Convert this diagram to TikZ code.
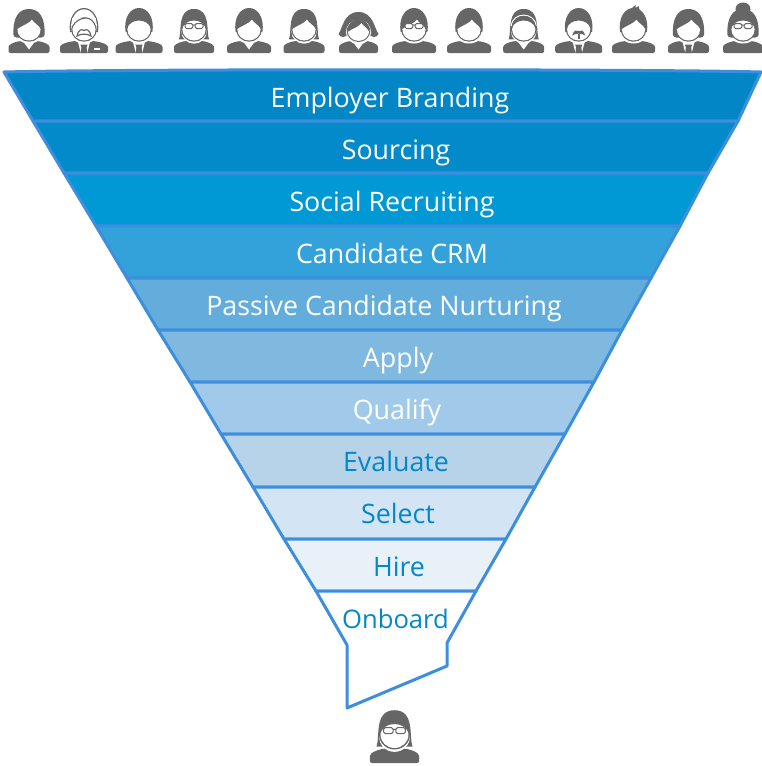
\documentclass[tikz,border=0pt]{standalone}
\usepackage{fontspec}
\setmainfont{Open Sans}
\definecolor{ln}{HTML}{3E8EDE}
\definecolor{ic}{HTML}{666666}
\definecolor{tb}{HTML}{0288C8}
\definecolor{ba}{HTML}{0286C5}
\definecolor{bb}{HTML}{028ACA}
\definecolor{bc}{HTML}{0099D5}
\definecolor{bd}{HTML}{33A2DA}
\definecolor{be}{HTML}{63ADDD}
\definecolor{bf}{HTML}{80B9E0}
\definecolor{bg}{HTML}{A1CAEA}
\definecolor{bh}{HTML}{B7D3EA}
\definecolor{bi}{HTML}{D3E4F4}
\definecolor{bj}{HTML}{E8F1F8}
\tikzset{
  band/.style={draw=ln,line width=3pt,line join=round},
  lab/.style={anchor=base,font=\fontsize{26.8}{30}\selectfont,inner sep=0pt},
  labw/.style={lab,text=white},
  labb/.style={lab,text=tb},
  dk/.style={fill=ic,draw=none},
  gl/.style={draw=ic,line width=1pt,fill=white,rounded corners=1.5pt},
}
% local icon coordinates: origin at the head centre
\newcommand{\icBody}[2]{% left, right half widths
  \fill[dk,rounded corners=2pt] (-#1,22) -- (-#1,18) .. controls (-#1,13.5) and (-#1+5,11.5) .. (-9,10) -- (9,10) .. controls (#2-5,11.5) and (#2,13.5) .. (#2,18) -- (#2,22) -- cycle;}
\newcommand{\icVee}{\fill[white] (-7,9) -- (0,18.5) -- (7,9) -- cycle;}
\newcommand{\icSuit}{\fill[white] (-6.5,9) -- (-3.2,22) -- (3.2,22) -- (6.5,9) -- cycle;
  \fill[dk] (-3.6,13.5) -- (3.6,13.5) -- (2.6,16.5) -- (3.4,22) -- (-3.4,22) -- (-2.6,16.5) -- cycle;}
\newcommand{\icHalo}{\fill[white] (0,-1.5) ellipse (15.5 and 14);}
\newcommand{\icGap}{\fill[white] (0,0.5) ellipse (12.7 and 12.2);}
\newcommand{\icFace}{\fill[dk] (0,-1.5) ellipse (12.8 and 12.2);
  \fill[white] (0,-1.5) ellipse (11.6 and 11);}
\newcommand{\icShort}{\fill[dk] (-13.4,1) .. controls (-15.5,-13) and (-9,-23) .. (0,-23) .. controls (9,-23) and (15.5,-13) .. (13.4,1) -- cycle;}
\newcommand{\icBob}{\fill[dk] (-15.5,4) .. controls (-16.5,-14) and (-10,-22) .. (0,-22) .. controls (10,-22) and (16.5,-14) .. (15.5,4) .. controls (15,7) and (10,7) .. (8,6) -- (-8,6) .. controls (-10,7) and (-15,7) .. (-15.5,4) -- cycle;}
\newcommand{\icLong}{\fill[dk] (-15,8.3) .. controls (-12,0) and (-17,-22) .. (0,-22) .. controls (17,-22) and (12,0) .. (15,8.3) -- cycle;}
\newcommand{\icFlat}{\fill[dk] (-11.8,-3) .. controls (-12,-11) and (-6,-15) .. (0,-15) .. controls (6,-15) and (12,-11) .. (11.8,-3) .. controls (10,-8) and (5,-10.5) .. (0,-10.5) .. controls (-5,-10.5) and (-10,-8) .. (-11.8,-3) -- cycle;}
\newcommand{\icSide}{\fill[dk] (-11.8,-2) .. controls (-12,-11) and (-6,-15) .. (0,-15) .. controls (6,-15) and (12,-11) .. (11.8,-2) .. controls (10,-6) and (5,-8) .. (3,-11.5) .. controls (0,-7.5) and (-7,-5.5) .. (-11.8,-2) -- cycle;}
\newcommand{\icGlasses}{\draw[gl] (-9,-7.5) rectangle (-1.2,-2.5); \draw[gl] (1.2,-7.5) rectangle (9,-2.5);
  \draw[ic,line width=1pt] (-1.2,-6) -- (1.2,-6) (-9,-6.5) -- (-12,-7) (9,-6.5) -- (12,-7);}
\newcommand{\icMoustache}{\fill[dk] (-6.5,4.5) .. controls (-5,-1) and (-2,-1.5) .. (0,0) .. controls (2,-1.5) and (5,-1) .. (6.5,4.5) .. controls (3,2) and (-3,2) .. (-6.5,4.5) -- cycle;
  \fill[dk] (-1.2,3) rectangle (1.2,8);}
\begin{document}
\begin{tikzpicture}[x=1pt,y=-1pt]
\useasboundingbox (0,0) rectangle (761,766);
% edge coordinates
\coordinate (L0) at (4,72);    \coordinate (R0) at (761,72);
\coordinate (L1) at (33,121);  \coordinate (R1) at (738,121);
\coordinate (L2) at (64,173);  \coordinate (R2) at (708,173);
\coordinate (L3) at (96,226);  \coordinate (R3) at (680,226);
\coordinate (L4) at (127,278); \coordinate (R4) at (651,278);
\coordinate (L5) at (158,330); \coordinate (R5) at (622,330);
\coordinate (L6) at (190,382); \coordinate (R6) at (594,382);
\coordinate (L7) at (221,434); \coordinate (R7) at (565,434);
\coordinate (L8) at (253,487); \coordinate (R8) at (535,487);
\coordinate (L9) at (284,539); \coordinate (R9) at (506,539);
\coordinate (L10) at (316,591);\coordinate (R10) at (476,591);
\coordinate (L11) at (347,645);\coordinate (R11) at (447,643);
\coordinate (B1) at (347,708); \coordinate (B2) at (447,666);
% bands
\draw[band,fill=ba] (L0) .. controls (120,69) and (650,69) .. (R0) -- (R1) -- (L1) -- cycle;
\draw[band,fill=bb] (L1) -- (R1) -- (R2) -- (L2) -- cycle;
\draw[band,fill=bc] (L2) -- (R2) -- (R3) -- (L3) -- cycle;
\draw[band,fill=bd] (L3) -- (R3) -- (R4) -- (L4) -- cycle;
\draw[band,fill=be] (L4) -- (R4) -- (R5) -- (L5) -- cycle;
\draw[band,fill=bf] (L5) -- (R5) -- (R6) -- (L6) -- cycle;
\draw[band,fill=bg] (L6) -- (R6) -- (R7) -- (L7) -- cycle;
\draw[band,fill=bh] (L7) -- (R7) -- (R8) -- (L8) -- cycle;
\draw[band,fill=bi] (L8) -- (R8) -- (R9) -- (L9) -- cycle;
\draw[band,fill=bj] (L9) -- (R9) -- (R10) -- (L10) -- cycle;
\draw[band,fill=white] (L10) -- (R10) -- (R11) -- (B2) -- (B1) -- (L11) -- cycle;
% labels
\node[labw] (t1) at (390,107) {Employer Branding};
\node[labw] (t2) at (396,159) {Sourcing};
\node[labw] (t3) at (392,211) {Social Recruiting};
\node[labw] (t4) at (392,263.5) {Candidate CRM};
\node[labw] (t5) at (384,315.5) {Passive Candidate Nurturing};
\node[labw] (t6) at (398,367.5) {Apply};
\node[labw] (t7) at (397,419.5) {Qualify};
\node[labb] (t8) at (396,471.5) {Evaluate};
\node[labb] (t9) at (398,523.5) {Select};
\node[labb] (t10) at (399,576) {Hire};
\node[labb,font=\fontsize{25.6}{30}\selectfont] (t11) at (395.5,628) {Onboard};
% people
\begin{scope}[shift={(29,31)}] \icBody{20.5}{20.5}\icVee\icHalo\icBob\icFace\icSide \end{scope}
\begin{scope}[shift={(84,31)}] \icBody{24}{24}\icSuit\icHalo
  \fill[dk] (-14,1) .. controls (-16,-13) and (-9,-23) .. (0,-23) .. controls (9,-23) and (16,-13) .. (14,1) -- cycle;
  \fill[white] (-12.7,0) .. controls (-14.5,-12) and (-8,-21.7) .. (0,-21.7) .. controls (8,-21.7) and (14.5,-12) .. (12.7,0) -- cycle;
  \icFace
  \fill[white] (-11.6,-5) rectangle (11.6,-13);
  \draw[ic,line width=1.1pt] (-11.8,-4) .. controls (-9,-10) and (-3,-13) .. (2,-13) .. controls (6,-13) and (10,-10) .. (11.8,-4);
  \draw[ic,line width=1.2pt,fill=white] (-7,5) .. controls (-5.5,-2) and (-2,-2) .. (0,-0.5) .. controls (2,-2) and (5.5,-2) .. (7,5) .. controls (3,2.5) and (-3,2.5) .. (-7,5) -- cycle;
  \fill[white] (10,17) rectangle (16,19);
\end{scope}
\begin{scope}[shift={(139,31)}] \icBody{23.5}{23.5}\icSuit\icHalo\icShort\icFace\icFlat \end{scope}
\begin{scope}[shift={(194,31)}] \icBody{20}{20}\icLong\icGap\icFace\icFlat\icGlasses \end{scope}
\begin{scope}[shift={(249,31)}] \icBody{22}{22}\icVee\icHalo\icShort\icFace\icSide \end{scope}
\begin{scope}[shift={(304,31)}] \icBody{20.5}{20.5}\icLong\icGap\icFace\icSide \end{scope}
\begin{scope}[shift={(358.5,31)}] \icBody{19.5}{19.5}\icVee\icHalo
  \fill[dk] (-20,3) .. controls (-16,-2) and (-15,-19) .. (0,-19) .. controls (15,-19) and (16,-2) .. (20,3) .. controls (18,7) and (14,6.5) .. (11,4) -- (-11,4) .. controls (-14,6.5) and (-18,7) .. (-20,3) -- cycle;
  \fill[white] (0,1) ellipse (12.6 and 12.4);
  \fill[dk] (0,0) ellipse (11.8 and 11);
  \fill[white] (0,0) ellipse (10.7 and 9.9);
  \fill[dk] (-11,1) .. controls (-11,-8) and (-5,-12) .. (0,-12) .. controls (5,-12) and (11,-8) .. (11,1) .. controls (9,-3) and (5,-5) .. (3,-8) .. controls (0,-4) and (-7,-2) .. (-11,1) -- cycle;
\end{scope}
\begin{scope}[shift={(414,31)}] \icBody{22}{22}\icHalo\icShort\icFace\icSide\icGlasses \end{scope}
\begin{scope}[shift={(469,31)}] \icBody{22}{22}\icHalo\icShort\icFace\icSide \end{scope}
\begin{scope}[shift={(523.7,31)}] \icBody{20.5}{20.5}\icVee\icLong\icGap\icFace
  \draw[white,line width=1pt] (-12.5,-5) .. controls (-11,-19.5) and (11,-19.5) .. (12.5,-5);
  \icFlat \end{scope}
\begin{scope}[shift={(578.7,31)}] \icBody{23.5}{23.5}\icSuit\icHalo\icShort\icFace\icFlat\icMoustache \end{scope}
\begin{scope}[shift={(633.5,31)}] \icBody{21.5}{21.5}\icHalo\icShort
  \fill[dk] (-5,-20) -- (2,-26) -- (2,-23) -- (5,-25) -- (7,-18) -- cycle;
  \icFace\icSide \end{scope}
\begin{scope}[shift={(688.5,31)}] \icBody{20.5}{20.5}\icSuit\icHalo\icBob\icFace\icSide \end{scope}
\begin{scope}[shift={(743,31)}] \icBody{20}{20}\icHalo
  \fill[dk] (0,-22) ellipse (7.5 and 6.5);
  \icBob\icFace\icFlat\icGlasses \end{scope}
\begin{scope}[shift={(394.5,736.6)},scale=1.2] \icBody{20.5}{20.5}\icLong\icGap\icFace\icFlat\icGlasses \end{scope}
\end{tikzpicture}
\end{document}
